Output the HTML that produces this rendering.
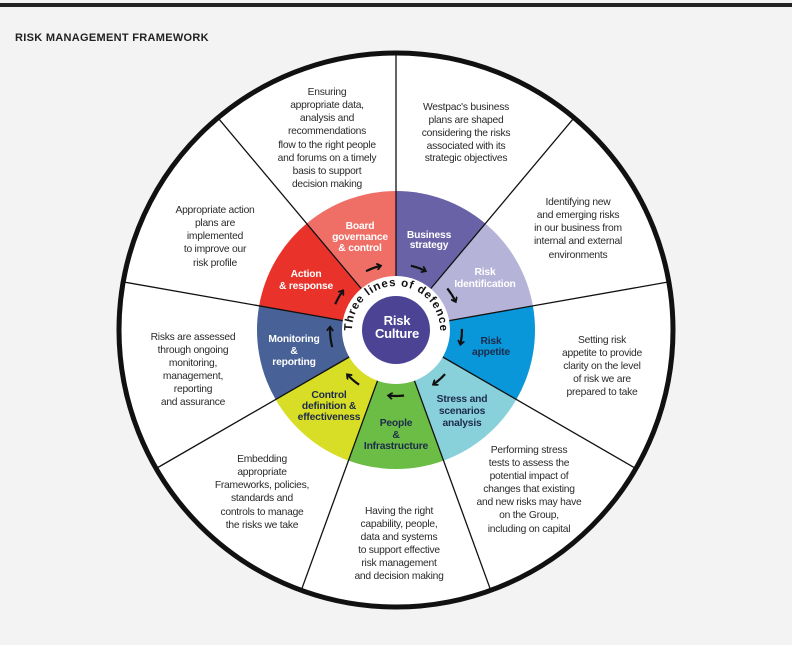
<!DOCTYPE html>
<html><head><meta charset="utf-8"><style>
html,body{margin:0;padding:0;background:#f3f3f4;}
svg{display:block;}
.o{font-family:"Liberation Sans",sans-serif;font-size:10.3px;fill:#2a2a2a;text-anchor:middle;letter-spacing:-0.25px;}
.l{font-family:"Liberation Sans",sans-serif;font-size:10.3px;font-weight:bold;text-anchor:middle;letter-spacing:-0.2px;}
.w{fill:#fff;} .d{fill:#1c2b4b;}
</style></head><body>
<svg width="792" height="645" viewBox="0 0 792 645" xmlns="http://www.w3.org/2000/svg">
<defs>
<marker id="ah" markerWidth="7" markerHeight="7" refX="3.5" refY="3.5" orient="auto" markerUnits="userSpaceOnUse">
<path d="M0,0 L4.5,3.5 L0,7" fill="none" stroke="#111" stroke-width="1.8"/>
</marker>
<path id="tp" d="M352.17,333.84 A44,44 0 1 1 439.83,333.84"/>
</defs>
<rect x="0" y="0" width="792" height="645" fill="#f3f3f4"/>
<rect x="0" y="3" width="792" height="4" fill="#222"/>
<text x="15" y="41" font-family="Liberation Sans,sans-serif" font-size="11" font-weight="bold" fill="#222" letter-spacing="0.3">RISK MANAGEMENT FRAMEWORK</text>

<circle cx="396" cy="330" r="277" fill="#fff" stroke="#111" stroke-width="5"/>

<path d="M396,330 L396,191 A139,139 0 0 1 485.35,223.53 Z" fill="#6a62a6"/>
<path d="M396,330 L485.35,223.53 A139,139 0 0 1 532.89,305.87 Z" fill="#b6b3d8"/>
<path d="M396,330 L532.89,305.87 A139,139 0 0 1 516.37,399.5 Z" fill="#0a97d9"/>
<path d="M396,330 L516.37,399.5 A139,139 0 0 1 443.54,460.62 Z" fill="#89d1da"/>
<path d="M396,330 L443.54,460.62 A139,139 0 0 1 348.46,460.62 Z" fill="#6cbd45"/>
<path d="M396,330 L348.46,460.62 A139,139 0 0 1 275.63,399.5 Z" fill="#d8dd25"/>
<path d="M396,330 L275.63,399.5 A139,139 0 0 1 259.11,305.87 Z" fill="#486196"/>
<path d="M396,330 L259.11,305.87 A139,139 0 0 1 306.65,223.53 Z" fill="#e8322a"/>
<path d="M396,330 L306.65,223.53 A139,139 0 0 1 396,191 Z" fill="#ef6f67"/>

<g stroke="#111" stroke-width="1.3">
<line x1="396" y1="276" x2="396" y2="53"/>
<line x1="430.71" y1="288.64" x2="574.06" y2="117.82"/>
<line x1="449.18" y1="320.63" x2="668.79" y2="281.91"/>
<line x1="442.76" y1="357" x2="635.88" y2="468.5"/>
<line x1="414.47" y1="380.74" x2="490.73" y2="590.3"/>
<line x1="377.53" y1="380.74" x2="301.27" y2="590.3"/>
<line x1="349.24" y1="357" x2="156.12" y2="468.5"/>
<line x1="342.82" y1="320.63" x2="123.21" y2="281.91"/>
<line x1="361.29" y1="288.64" x2="217.94" y2="117.82"/>
</g>

<circle cx="396" cy="330" r="54" fill="#fff"/>
<circle cx="396" cy="330" r="34" fill="#4c4394"/>

<g fill="none" stroke="#111" stroke-width="2.2" marker-end="url(#ah)">
<path d="M366.04,271.19 A66,66 0 0 1 380.03,265.96"/>
<path d="M410.85,265.69 A66,66 0 0 1 424.93,270.68"/>
<path d="M447.29,288.47 A66,66 0 0 1 455.32,301.07"/>
<path d="M461.99,328.85 A66,66 0 0 1 460.55,343.72"/>
<path d="M445.04,374.16 A66,66 0 0 1 433.86,384.07"/>
<path d="M404.05,395.51 A66,66 0 0 1 389.1,395.64"/>
<path d="M359.09,384.71 A66,66 0 0 1 347.73,375.01"/>
<path d="M332.25,347.08 A66,66 0 0 1 330.04,327.7"/>
<path d="M335.25,304.21 A66,66 0 0 1 342.61,291.21"/>
</g>

<text font-family="Liberation Sans,sans-serif" font-size="11.5" font-weight="bold" fill="#111"><textPath href="#tp" startOffset="3" textLength="140" lengthAdjust="spacing">Three lines of defence</textPath></text>

<text class="l w" x="397" y="325" style="font-size:13px">Risk</text>
<text class="l w" x="397" y="338" style="font-size:13px">Culture</text>

<text class="l w"><tspan x="360" y="229">Board</tspan><tspan x="360" y="240">governance</tspan><tspan x="360" y="251">&amp; control</tspan></text>
<text class="l w"><tspan x="429" y="238">Business</tspan><tspan x="429" y="248">strategy</tspan></text>
<text class="l w"><tspan x="485" y="275">Risk</tspan><tspan x="485" y="287">Identification</tspan></text>
<text class="l d"><tspan x="491" y="344">Risk</tspan><tspan x="491" y="355">appetite</tspan></text>
<text class="l d"><tspan x="462" y="402">Stress and</tspan><tspan x="462" y="414">scenarios</tspan><tspan x="462" y="426">analysis</tspan></text>
<text class="l d"><tspan x="396" y="426">People</tspan><tspan x="396" y="438">&amp;</tspan><tspan x="396" y="449">Infrastructure</tspan></text>
<text class="l d"><tspan x="329" y="398">Control</tspan><tspan x="329" y="409">definition &amp;</tspan><tspan x="329" y="420">effectiveness</tspan></text>
<text class="l w"><tspan x="294" y="342">Monitoring</tspan><tspan x="294" y="354">&amp;</tspan><tspan x="294" y="365">reporting</tspan></text>
<text class="l w"><tspan x="306" y="277">Action</tspan><tspan x="306" y="289">&amp; response</tspan></text>

<text class="o"><tspan x="327" y="95">Ensuring</tspan><tspan x="327" y="108">appropriate data,</tspan><tspan x="327" y="121">analysis and</tspan><tspan x="327" y="134">recommendations</tspan><tspan x="327" y="148">flow to the right people</tspan><tspan x="327" y="161">and forums on a timely</tspan><tspan x="327" y="174">basis to support</tspan><tspan x="327" y="187">decision making</tspan></text>
<text class="o"><tspan x="466" y="110">Westpac's business</tspan><tspan x="466" y="123">plans are shaped</tspan><tspan x="466" y="136">considering the risks</tspan><tspan x="466" y="149">associated with its</tspan><tspan x="466" y="161">strategic objectives</tspan></text>
<text class="o"><tspan x="578" y="205">Identifying new</tspan><tspan x="578" y="218">and emerging risks</tspan><tspan x="578" y="231">in our business from</tspan><tspan x="578" y="244">internal and external</tspan><tspan x="578" y="258">environments</tspan></text>
<text class="o"><tspan x="602" y="343">Setting risk</tspan><tspan x="602" y="356">appetite to provide</tspan><tspan x="602" y="369">clarity on the level</tspan><tspan x="602" y="382">of risk we are</tspan><tspan x="602" y="395">prepared to take</tspan></text>
<text class="o"><tspan x="529" y="453">Performing stress</tspan><tspan x="529" y="466">tests to assess the</tspan><tspan x="529" y="479">potential impact of</tspan><tspan x="529" y="492">changes that existing</tspan><tspan x="529" y="505">and new risks may have</tspan><tspan x="529" y="518">on the Group,</tspan><tspan x="529" y="532">including on capital</tspan></text>
<text class="o"><tspan x="399" y="514">Having the right</tspan><tspan x="399" y="527">capability, people,</tspan><tspan x="399" y="540">data and systems</tspan><tspan x="399" y="553">to support effective</tspan><tspan x="399" y="566">risk management</tspan><tspan x="399" y="579">and decision making</tspan></text>
<text class="o"><tspan x="262" y="462">Embedding</tspan><tspan x="262" y="475">appropriate</tspan><tspan x="262" y="488">Frameworks, policies,</tspan><tspan x="262" y="501">standards and</tspan><tspan x="262" y="515">controls to manage</tspan><tspan x="262" y="528">the risks we take</tspan></text>
<text class="o"><tspan x="193" y="340">Risks are assessed</tspan><tspan x="193" y="353">through ongoing</tspan><tspan x="193" y="366">monitoring,</tspan><tspan x="193" y="379">management,</tspan><tspan x="193" y="392">reporting</tspan><tspan x="193" y="405">and assurance</tspan></text>
<text class="o"><tspan x="215" y="213">Appropriate action</tspan><tspan x="215" y="226">plans are</tspan><tspan x="215" y="239">implemented</tspan><tspan x="215" y="252">to improve our</tspan><tspan x="215" y="266">risk profile</tspan></text>
</svg>
</body></html>
